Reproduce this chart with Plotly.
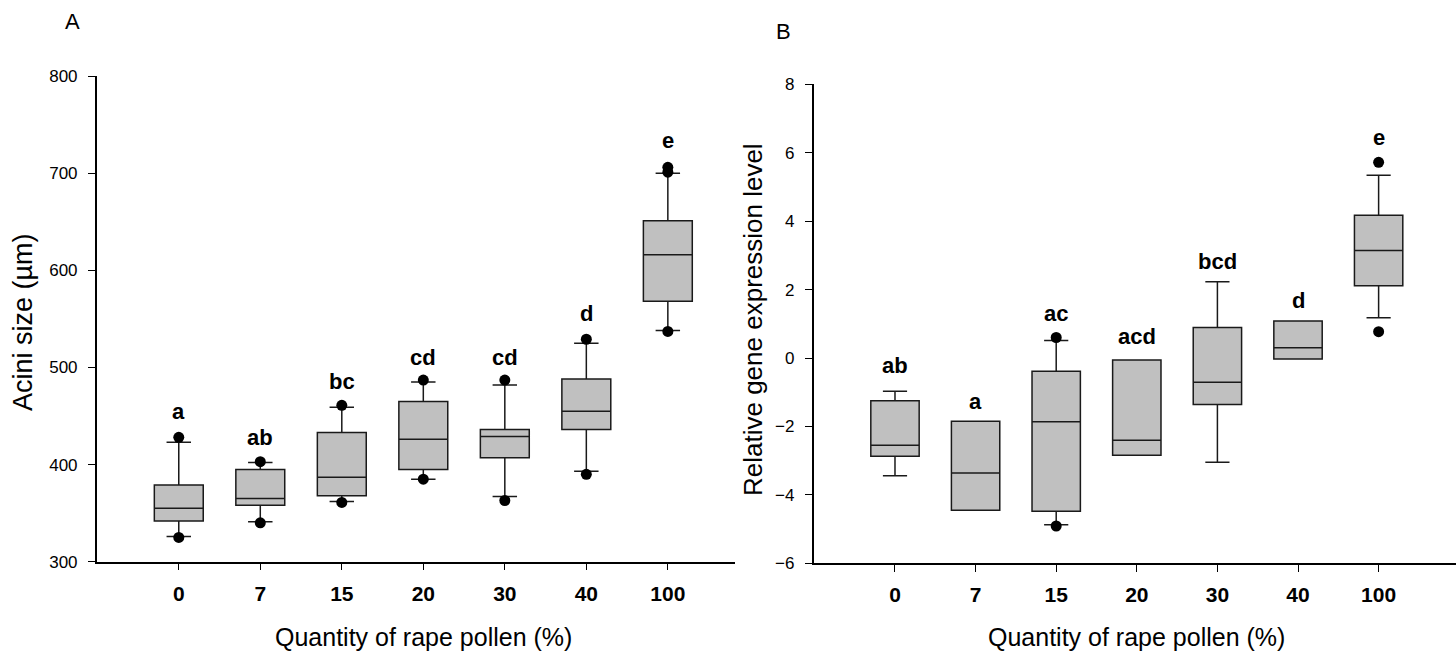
import plotly.graph_objects as go

W, H = 1456, 655

categories = ["0", "7", "15", "20", "30", "40", "100"]

# Panel A: Acini size (um)
a_q1 = [342, 358, 368, 395, 407, 436, 568]
a_med = [355, 365, 387, 426, 429, 455, 616]
a_q3 = [379, 395, 433, 465, 436, 488, 651]
a_low = [326, 341, 362, 385, 367, 393, 538]
a_up = [423, 402, 459, 485, 482, 525, 700]
a_out_idx = [0, 0, 1, 1, 2, 2, 3, 3, 4, 4, 5, 5, 6, 6, 6]
a_out_val = [428, 325, 403, 340, 461, 361, 487, 385, 487, 363, 529, 390, 706, 701, 537]
a_letters = ["a", "ab", "bc", "cd", "cd", "d", "e"]
a_letter_y = [455, 428, 486, 510, 510, 555, 734]

# Panel B: Relative gene expression level
b_q1 = [-2.87, -4.45, -4.48, -2.84, -1.36, -0.03, 2.11]
b_med = [-2.55, -3.36, -1.86, -2.40, -0.71, 0.30, 3.14]
b_q3 = [-1.25, -1.85, -0.39, -0.06, 0.89, 1.08, 4.17]
b_low = [-3.44, -4.45, -4.87, -2.84, -3.05, -0.03, 1.18]
b_up = [-0.97, -1.85, 0.51, -0.06, 2.23, 1.08, 5.34]
b_out_idx = [2, 2, 6, 6]
b_out_val = [0.60, -4.91, 5.72, 0.77]
b_letters = ["ab", "a", "ac", "acd", "bcd", "d", "e"]
b_letter_y = [-0.23, -1.26, 1.29, 0.64, 2.82, 1.67, 6.45]

xpos = list(range(len(categories)))
FONT = "Liberation Sans, Arial, sans-serif"
FILL = "#c0c0c0"
LINE = "#1a1a1a"

fig = go.Figure()

def add_panel(q1, med, q3, low, up, oidx, oval, xa, ya):
    fig.add_trace(go.Box(
        x=xpos, q1=q1, median=med, q3=q3, lowerfence=low, upperfence=up,
        width=0.6, whiskerwidth=0.5, fillcolor=FILL,
        line=dict(color=LINE, width=1.5), boxpoints=False,
        xaxis=xa, yaxis=ya, showlegend=False, hoverinfo="skip"))
    fig.add_trace(go.Scatter(
        x=oidx, y=oval, mode="markers",
        marker=dict(color="black", size=11),
        xaxis=xa, yaxis=ya, showlegend=False, hoverinfo="skip"))

add_panel(a_q1, a_med, a_q3, a_low, a_up, a_out_idx, a_out_val, "x", "y")
add_panel(b_q1, b_med, b_q3, b_low, b_up, b_out_idx, b_out_val, "x2", "y2")

xaxis_common = dict(
    tickmode="array", tickvals=xpos, ticktext=categories,
    showline=True, linecolor="black", linewidth=1.5,
    ticks="outside", ticklen=7, tickwidth=1.3, tickcolor="black",
    tickfont=dict(family=FONT, size=21, color="black", weight="bold"),
    ticklabelstandoff=5, automargin=False,
    showgrid=False, zeroline=False, fixedrange=True)
yaxis_common = dict(
    showline=True, linecolor="black", linewidth=1.5,
    ticks="outside", ticklen=7, tickwidth=1.3, tickcolor="black",
    tickfont=dict(family=FONT, size=17, color="black"),
    ticklabelstandoff=7, automargin=False,
    showgrid=False, zeroline=False, fixedrange=True)

fig.update_layout(
    width=W, height=H, autosize=False,
    margin=dict(l=0, r=0, t=0, b=0, pad=0),
    paper_bgcolor="white", plot_bgcolor="white",
    font=dict(family=FONT, color="black"),
    xaxis=dict(domain=[96.7 / W, 735 / W], range=[-1.007, 6.824], anchor="y", **xaxis_common),
    yaxis=dict(domain=[1 - 561.7 / H, 1 - 76 / H], range=[300, 800], anchor="x",
               tickvals=[300, 400, 500, 600, 700, 800], **yaxis_common),
    xaxis2=dict(domain=[813.5 / W, 1.0], range=[-1.011, 6.96], anchor="y2", **xaxis_common),
    yaxis2=dict(domain=[1 - 563.3 / H, 1 - 84.3 / H], range=[-6, 8], anchor="x2",
                tickvals=[-6, -4, -2, 0, 2, 4, 6, 8], **yaxis_common),
)

ann = []
for i, (t, y) in enumerate(zip(a_letters, a_letter_y)):
    ann.append(dict(x=i, y=y, xref="x", yref="y", text=t, showarrow=False,
                    font=dict(family=FONT, size=22, color="black", weight="bold")))
for i, (t, y) in enumerate(zip(b_letters, b_letter_y)):
    ann.append(dict(x=i, y=y, xref="x2", yref="y2", text=t, showarrow=False,
                    font=dict(family=FONT, size=22, color="black", weight="bold")))

def pann(text, px, py, size, angle=0):
    return dict(x=px / W, y=1 - py / H, xref="paper", yref="paper", text=text,
                showarrow=False, textangle=angle, xanchor="center", yanchor="middle",
                font=dict(family=FONT, size=size, color="black"))

ann += [
    pann("A", 72.7, 21, 22),
    pann("B", 783.8, 32, 22),
    pann("Quantity of rape pollen (%)", 423.5, 637, 25),
    pann("Quantity of rape pollen (%)", 1136, 637, 25),
    pann("Acini size (µm)", 23, 322, 27, -90),
    pann("Relative gene expression level", 753, 320, 26, -90),
]
fig.update_layout(annotations=ann)

fig.write_html("out.html", config={"displayModeBar": False, "responsive": False},
               post_script="document.body.style.margin='0';document.body.style.overflow='hidden';")
